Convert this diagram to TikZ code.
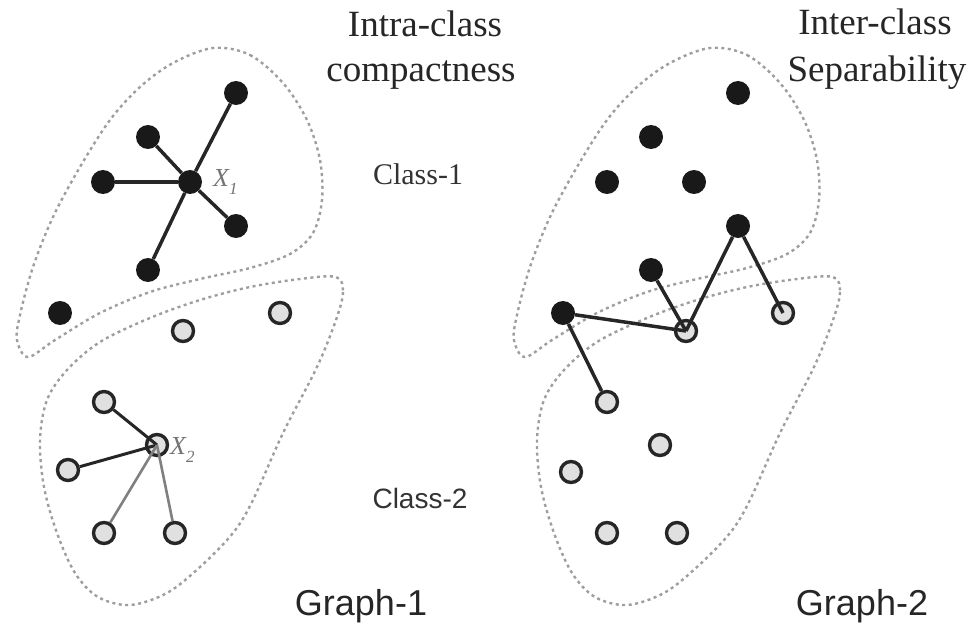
\documentclass[tikz,border=0pt]{standalone}
\usepackage{fontspec}
\setmainfont{Liberation Serif}
\newfontfamily\arialfont{Liberation Sans}
\begin{document}
\begin{tikzpicture}[x=1pt,y=-1pt,
  solid/.style={circle,fill=black!90,minimum size=24pt,inner sep=0pt},
  hollow/.style={circle,fill=black!12,draw=black!85,line width=3.4pt,minimum size=21pt,inner sep=0pt},
  link/.style={line width=3.5pt,draw=black!85},
  faint/.style={line width=2.6pt,draw=black!50},
  region/.style={draw=black!38,line width=2.4pt,dash pattern=on 3pt off 3.5pt},
  heading/.style={anchor=base,text=black!85,font=\fontsize{37}{40}\selectfont},
  classlbl/.style={anchor=base,text=black!80},
  graphlbl/.style={anchor=base,text=black!85,font=\arialfont\fontsize{36}{40}\selectfont},
  hublbl/.style={anchor=west,text=black!55,inner sep=0pt,font=\fontsize{26}{26}\selectfont\itshape}
]
\useasboundingbox (0,0) rectangle (967,623);

% class regions, drawn once per graph
\foreach \dx in {0,497}{
  \begin{scope}[xshift=\dx pt]
    \draw[region] plot[smooth cycle, tension=0.55] coordinates {
      (213,48) (250,55) (283,83) (307,120) (320,160) (322,200) (313,233)
      (290,254) (250,268) (200,279) (150,292) (100,313) (55,340) (28,357)
      (17,340) (20,315) (33,267) (53,217) (80,167) (110,120) (140,87) (173,63)};
    \draw[region] plot[smooth cycle, tension=0.55] coordinates {
      (336,277) (343,292) (336,320) (317,367) (283,433) (253,500) (233,533)
      (200,567) (167,593) (130,605) (98,597) (75,573) (57,533) (44,487)
      (40,440) (47,400) (67,370) (100,342) (150,318) (200,300) (250,287) (300,279)};
  \end{scope}
}

% Graph-1
\node[solid] (g1c) at (190,182) {};
\node[solid] (g1a) at (236,93) {};
\node[solid] (g1b) at (148,137) {};
\node[solid] (g1d) at (103,182) {};
\node[solid] (g1e) at (236,226) {};
\node[solid] (g1f) at (148,270) {};
\node[solid] (g1g) at (60,313) {};
\node[hollow] (g1p) at (280,313) {};
\node[hollow] (g1q) at (183,331) {};
\node[hollow] (g1h) at (157,445) {};
\node[hollow] (g1r) at (104,402) {};
\node[hollow] (g1s) at (68,470) {};
\node[hollow] (g1t) at (104,533) {};
\node[hollow] (g1u) at (175,533) {};

\foreach \n in {g1a,g1b,g1d,g1e,g1f} \draw[link] (g1c) -- (\n);
\draw[link,line width=3pt] (g1h.center) -- (g1r);
\draw[link,line width=3pt] (g1h.center) -- (g1s);
\draw[faint] (g1h.center) -- (g1t);
\draw[faint] (g1h.center) -- (g1u);

\node[hublbl] (l1) at (213,182) {X\raisebox{-0.28em}{\fontsize{17}{17}\selectfont 1}};
\node[hublbl] (l2) at (170,450) {X\raisebox{-0.28em}{\fontsize{17}{17}\selectfont 2}};

% Graph-2
\node[solid] (g2a) at (738,93) {};
\node[solid] (g2b) at (651,137) {};
\node[solid] (g2c) at (607,182) {};
\node[solid] (g2d) at (694,182) {};
\node[solid] (g2e) at (738,226) {};
\node[solid] (g2f) at (651,270) {};
\node[solid] (g2g) at (563,313) {};
\node[hollow] (g2p) at (783,313) {};
\node[hollow] (g2h) at (686,331) {};
\node[hollow] (g2r) at (607,402) {};
\node[hollow] (g2s) at (660,445) {};
\node[hollow] (g2t) at (571,472) {};
\node[hollow] (g2u) at (607,533) {};
\node[hollow] (g2v) at (677,533) {};

\draw[link] (g2g) -- (g2h.center);
\draw[link] (g2g) -- (g2r);
\draw[link] (g2f) -- (g2h.center);
\draw[link] (g2h.center) -- (g2e);
\draw[link] (g2e) -- (g2p.center);

% headings and labels
\node[heading] (t1) at (425,37) {Intra-class};
\node[heading] (t2) at (421,82) {compactness};
\node[heading] (t3) at (875,35) {Inter-class};
\node[heading] (t4) at (877,82) {Separability};
\node[classlbl,font=\fontsize{30}{32}\selectfont] (c1) at (418,185) {Class-1};
\node[classlbl,font=\arialfont\fontsize{28}{32}\selectfont] (c2) at (420,508) {Class-2};
\node[graphlbl] (n1) at (361,615) {Graph-1};
\node[graphlbl] (n2) at (862,615) {Graph-2};
\end{tikzpicture}
\end{document}
